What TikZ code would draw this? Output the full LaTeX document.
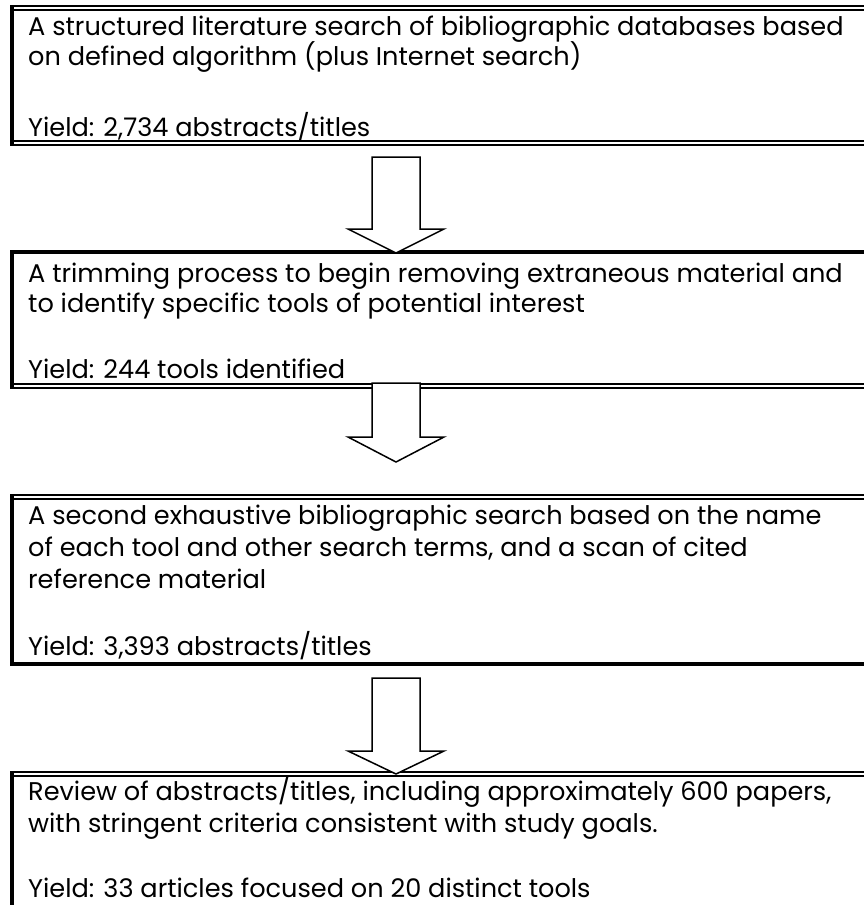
\documentclass[tikz,border=0pt]{standalone}
\usepackage{fontspec}
\setmainfont{Poppins}
\usetikzlibrary{calc}

\tikzset{
  boxtext/.style={anchor=base west, inner sep=0pt, font=\fontsize{25.6}{30}\selectfont},
  dblline/.style={line width=1.7pt, double distance=2pt},
  thickline/.style={line width=4pt},
  leftline/.style={line width=4pt},
  blockarrow/.style={draw, line width=1.5pt, fill=white, line join=miter},
}

\begin{document}
\begin{tikzpicture}[x=1pt, y=-1pt]
\useasboundingbox (0,0) rectangle (864,905);
\clip (0,0) rectangle (864,905);

%%%%%%%%%%%%%%%%% Step 1
\draw[dblline] (10,8) -- (880,8);
\draw[dblline] (10,143) -- (880,143);
\draw[leftline] (12,6) -- (12,145);
\node[boxtext] (s1a) at (28,35) {A structured literature search of bibliographic databases based};
\node[boxtext] (s1b) at (28,65) {on defined algorithm (plus Internet search)};
\node[boxtext] (s1y) at (28,136.5) {Yield: 2,734 abstracts/titles};

%%%%%%%%%%%%%%%%% Step 2
\draw[thickline] (10,252) -- (880,252);
\draw[dblline] (10,386) -- (880,386);
\draw[leftline] (12,250) -- (12,388);
\node[boxtext] (s2a) at (28,282) {A trimming process to begin removing extraneous material and};
\node[boxtext] (s2b) at (28,312) {to identify specific tools of potential interest};
\node[boxtext] (s2y) at (28,378) {Yield: 244 tools identified};

%%%%%%%%%%%%%%%%% Step 3
\draw[dblline] (10,497) -- (880,497);
\draw[thickline] (10,664) -- (880,664);
\draw[leftline] (12,495) -- (12,666);
\node[boxtext] (s3a) at (28,524) {A second exhaustive bibliographic search based on the name};
\node[boxtext] (s3b) at (28,556) {of each tool and other search terms, and a scan of cited};
\node[boxtext] (s3c) at (28,588) {reference material};
\node[boxtext] (s3y) at (28,655) {Yield: 3,393 abstracts/titles};

%%%%%%%%%%%%%%%%% Step 4
\draw[dblline] (10,774) -- (880,774);
\draw[leftline] (12,772) -- (12,920);
\node[boxtext] (s4a) at (28,800) {Review of abstracts/titles, including approximately 600 papers,};
\node[boxtext] (s4b) at (28,832) {with stringent criteria consistent with study goals.};
\node[boxtext] (s4y) at (28,897) {Yield: 33 articles focused on 20 distinct tools};

%%%%%%%%%%%%%%%%% arrows between the steps
\foreach \top/\base/\tip in {157/229/253, 383/437/462, 678/751/774}
  \draw[blockarrow] (372,\top) -- (420,\top) -- (420,\base) -- (444,\base)
    -- (396,\tip) -- (348,\base) -- (372,\base) -- cycle;
\end{tikzpicture}
\end{document}
